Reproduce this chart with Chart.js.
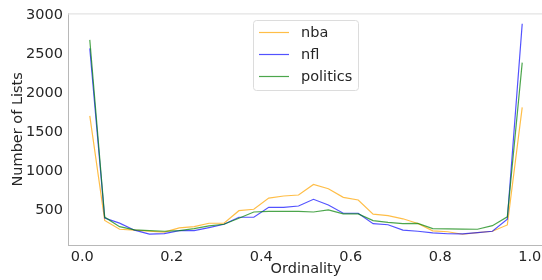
<!DOCTYPE html>
<html><head><meta charset="utf-8">
<script src="https://cdn.jsdelivr.net/npm/chart.js@4/dist/chart.umd.min.js"></script>
<style>html,body{margin:0;padding:0;overflow:hidden;background:#fff}#wrap{width:546px;height:280px;position:relative}</style>
</head><body><div id="wrap"><canvas id="c" width="546" height="280"></canvas></div>
<script>
// Bin centres (categories)
const ordinality = [0.0167,0.05,0.0833,0.1167,0.15,0.1833,0.2167,0.25,0.2833,0.3167,
  0.35,0.3833,0.4167,0.45,0.4833,0.5167,0.55,0.5833,0.6167,0.65,
  0.6833,0.7167,0.75,0.7833,0.8167,0.85,0.8833,0.9167,0.95,0.9833];
const nba = [1715,375,262,250,236,225,280,295,339,339,500,518,662,688,701,837,781,671,637,456,436,396,335,242,230,198,219,236,317,1825];
const nfl = [2580,405,340,250,200,205,244,244,283,326,416,416,543,543,560,646,573,467,467,334,320,250,236,215,204,202,219,236,390,2896];
const politics = [2690,418,295,255,244,236,244,270,304,326,403,483,492,492,492,483,509,458,458,372,350,334,337,270,266,264,262,308,421,2398];
const seriesNames = ['nba','nfl','politics'];
const seriesColors = ['rgba(255,165,0,0.72)','rgba(0,0,255,0.68)','rgba(0,128,0,0.7)'];
const xTicks = [0.0,0.2,0.4,0.6,0.8,1.0];
const yTicks = [500,1000,1500,2000,2500,3000];
const xTitle = 'Ordinality';
const yTitle = 'Number of Lists';

const FONT = 'DejaVu Sans';
const FS = 14.5;
const TXT = '#262626';
const allSeries = [nba, nfl, politics];
const datasets = allSeries.map((s, k) => ({
  label: seriesNames[k],
  data: s.map((v, i) => ({x: ordinality[i], y: v})),
  borderColor: seriesColors[k],
  backgroundColor: seriesColors[k],
  borderWidth: 1.2,
  pointRadius: 0,
  tension: 0,
  fill: false,
  order: 3 - k
}));

const deco = {
  id: 'deco',
  afterDraw(chart) {
    const ctx = chart.ctx, a = chart.chartArea;
    ctx.save();
    // top spine
    ctx.strokeStyle = '#e3e3e3';
    ctx.lineWidth = 1.4;
    ctx.beginPath(); ctx.moveTo(a.left, a.top + 0.2); ctx.lineTo(a.right + 5, a.top + 0.2); ctx.stroke();
    // axis titles
    ctx.fillStyle = TXT;
    ctx.font = FS + 'px "' + FONT + '"';
    ctx.textAlign = 'center'; ctx.textBaseline = 'middle';
    ctx.fillText(xTitle, (a.left + a.right) / 2, 269.5);
    ctx.save();
    ctx.translate(18, (a.top + a.bottom) / 2);
    ctx.rotate(-Math.PI / 2);
    ctx.fillText(yTitle, 0, 0);
    ctx.restore();
    // legend
    const bx = 253.5, by = 20.5, bw = 105, bh = 70, r = 3;
    ctx.fillStyle = 'rgba(255,255,255,0.85)';
    ctx.strokeStyle = '#dcdcdc';
    ctx.lineWidth = 1;
    ctx.beginPath();
    ctx.moveTo(bx + r, by); ctx.lineTo(bx + bw - r, by); ctx.arcTo(bx + bw, by, bx + bw, by + r, r);
    ctx.lineTo(bx + bw, by + bh - r); ctx.arcTo(bx + bw, by + bh, bx + bw - r, by + bh, r);
    ctx.lineTo(bx + r, by + bh); ctx.arcTo(bx, by + bh, bx, by + bh - r, r);
    ctx.lineTo(bx, by + r); ctx.arcTo(bx, by, bx + r, by, r);
    ctx.closePath(); ctx.fill(); ctx.stroke();
    ctx.textAlign = 'left';
    chart.data.datasets.forEach((d, k) => {
      const y = 32.5 + k * 22;
      ctx.strokeStyle = d.borderColor; ctx.lineWidth = 1.2;
      ctx.beginPath(); ctx.moveTo(259, y); ctx.lineTo(289, y); ctx.stroke();
      ctx.fillStyle = TXT;
      ctx.fillText(d.label, 301, y + 0.5);
    });
    ctx.restore();
  }
};

new Chart(document.getElementById('c'), {
  type: 'line',
  data: {datasets},
  options: {
    responsive: false,
    animation: false,
    events: [],
    layout: {padding: {top: 13, right: 2, left: 0, bottom: 0}},
    plugins: {legend: {display: false}, tooltip: {enabled: false}},
    scales: {
      x: {
        type: 'linear', min: -0.032, max: 1.032,
        afterBuildTicks: s => { s.ticks = xTicks.map(v => ({value: v})); },
        afterFit: s => { s.height = 35; },
        grid: {display: false, drawTicks: false},
        border: {display: true, color: '#b8b8b8', width: 1},
        ticks: {padding: 4, color: TXT, font: {family: FONT, size: FS}, maxRotation: 0,
          callback: v => v.toFixed(1)}
      },
      y: {
        type: 'linear', min: 60, max: 3025,
        afterBuildTicks: s => { s.ticks = yTicks.map(v => ({value: v})); },
        afterFit: s => { s.width = 68; },
        grid: {display: false, drawTicks: false},
        border: {display: true, color: '#b8b8b8', width: 1},
        ticks: {padding: 5, color: TXT, font: {family: FONT, size: FS}, callback: v => String(v)}
      }
    }
  },
  plugins: [deco]
});
</script></body></html>
